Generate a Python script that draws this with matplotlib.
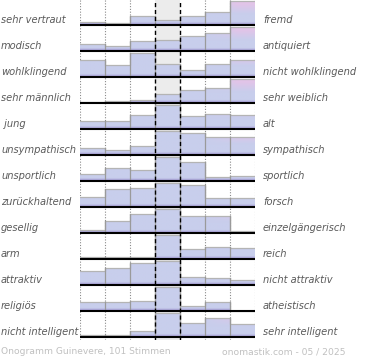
import numpy as np
import matplotlib
matplotlib.use('Agg')
import matplotlib.pyplot as plt
import matplotlib.transforms as mtrans
from matplotlib.patches import Polygon

# Onogramm: linke / rechte Eigenschaft je Zeile
left_labels = ['sehr vertraut', 'modisch', 'wohlklingend', 'sehr männlich', ' jung',
               'unsympathisch', 'unsportlich', 'zurückhaltend', 'gesellig', 'arm',
               'attraktiv', 'religiös', 'nicht intelligent']
right_labels = ['fremd', 'antiquiert', 'nicht wohlklingend', 'sehr weiblich', 'alt',
                'sympathisch', 'sportlich', 'forsch', 'einzelgängerisch', 'reich',
                'nicht attraktiv', 'atheistisch', 'sehr intelligent']

# Balkenhöhen je Zeile (relativ zum Maximum der Zeile), 7 Stufen
rows = [
    [0.12, 0.08, 0.37, 0.20, 0.37, 0.53, 1.00],
    [0.27, 0.20, 0.40, 0.47, 0.63, 0.73, 1.00],
    [0.72, 0.51, 1.00, 0.55, 0.30, 0.55, 0.70],
    [0.04, 0.08, 0.14, 0.36, 0.55, 0.64, 1.00],
    [0.32, 0.32, 0.58, 1.00, 0.55, 0.63, 0.58],
    [0.30, 0.20, 0.36, 1.00, 0.90, 0.74, 0.74],
    [0.31, 0.54, 0.45, 1.00, 0.80, 0.16, 0.20],
    [0.42, 0.75, 0.80, 1.00, 0.92, 0.38, 0.38],
    [0.11, 0.48, 0.78, 1.00, 0.71, 0.71, 0.08],
    [0.10, 0.10, 0.10, 1.00, 0.42, 0.50, 0.45],
    [0.59, 0.69, 0.89, 1.00, 0.34, 0.28, 0.20],
    [0.38, 0.36, 0.42, 1.00, 0.22, 0.38, 0.00],
    [0.07, 0.07, 0.25, 1.00, 0.58, 0.77, 0.53],
]

footer_left = 'Onogramm Guinevere, 101 Stimmen'
footer_right = 'onomastik.com - 05 / 2025'

W, Hpx = 370, 360
fig = plt.figure(figsize=(W / 100, Hpx / 100), dpi=100)
ax = fig.add_axes([80 / W, 1 - 340 / Hpx, 175 / W, 340 / Hpx])
ax.set_axis_off()

ncol = 7
nrow = len(rows)
H = 0.93  # Balkenhöhe bei Maximum (in Zeileneinheiten)

# mittlere Spalte grau hinterlegt
ax.axvspan(3, 4, color='#ececec', zorder=0, lw=0)
for x in [0, 1, 2, 5, 6, 7]:
    ax.axvline(x, color='#8a8a8a', ls=(0, (1, 1.5)), lw=0.8, zorder=1)

# Farbverlauf berechnen
def gradient(ny=60, nx=140):
    t = np.linspace(1, 0, ny)[:, None] * np.ones((1, nx))
    u = np.ones((ny, 1)) * np.linspace(0, ncol, nx)[None, :]
    blue = np.array([200, 206, 236]) / 255
    purple = np.array([156, 144, 208]) / 255
    pink = np.array([226, 196, 232]) / 255
    img = np.ones((ny, nx, 3)) * blue
    wb = np.clip(1 - t / 0.12, 0, 1)[..., None]
    img = img * (1 - wb) + purple * wb
    wp = (np.clip((u - 5.0) / 1.3, 0, 1) * np.clip((t - 0.45) / 0.4, 0, 1))[..., None]
    img = img * (1 - wp) + pink * wp
    return img

grad = gradient()

for k, vals in enumerate(rows):
    base = k + 1
    xs = [0]
    ys = [base]
    for i, v in enumerate(vals):
        xs += [i, i + 1]
        ys += [base - v * H, base - v * H]
    xs.append(ncol)
    ys.append(base)
    poly = Polygon(np.column_stack([xs, ys]), closed=True, facecolor='none',
                   edgecolor='none', transform=ax.transData)
    ax.add_patch(poly)
    im = ax.imshow(grad, extent=(0, ncol, base, base - H), origin='upper',
                   aspect='auto', interpolation='bilinear', zorder=2)
    im.set_clip_path(poly)
    ax.plot(xs[1:-1], ys[1:-1], color='#b4b4b4', lw=0.9, zorder=3)
    for i in range(1, ncol):
        top = base - max(vals[i - 1], vals[i]) * H
        ax.plot([i, i], [base, top], color='#9a9a9a', lw=0.9, zorder=3)
    ax.plot([0, ncol], [base, base], color='black', lw=1.5, zorder=5,
            solid_capstyle='butt')

for x in [3, 4]:
    ax.axvline(x, color='black', ls=(0, (3, 2)), lw=1.0, zorder=4)

ax.set_xlim(0, ncol)
ax.set_ylim(13.115, 0.0385)

tr = mtrans.blended_transform_factory(fig.transFigure, ax.transData)
for k in range(nrow):
    yl = k + 1 - 0.2
    fig.text(1 / W, yl, left_labels[k], transform=tr, ha='left', va='center',
             fontsize=7.1, style='italic', color='#5a5a5a')
    fig.text(263 / W, yl, right_labels[k], transform=tr, ha='left', va='center',
             fontsize=7.1, style='italic', color='#5a5a5a')

fig.text(1 / W, 1 - 352 / Hpx, footer_left, ha='left', va='center',
         fontsize=6.6, color='#c0c0c0')
fig.text(345 / W, 1 - 352 / Hpx, footer_right, ha='right', va='center',
         fontsize=6.6, color='#c0c0c0')

fig.savefig('out.png', dpi=100)
